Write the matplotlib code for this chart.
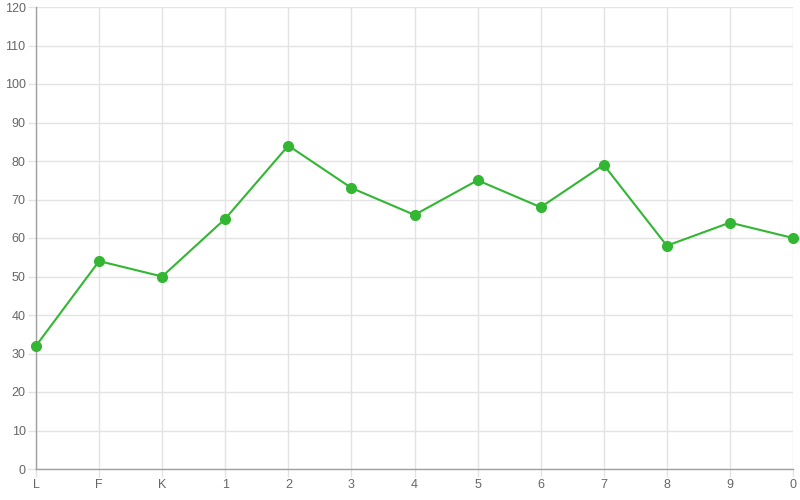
import matplotlib.pyplot as plt

plt.rcParams['font.family'] = ['Liberation Sans', 'DejaVu Sans']

labels = ['L', 'F', 'K', '1', '2', '3', '4', '5', '6', '7', '8', '9', '0']
values = [32, 54, 50, 65, 84, 73, 66, 75, 68, 79, 58, 64, 60]
y_ticks = list(range(0, 121, 10))

fig = plt.figure(figsize=(8, 5), dpi=100)
ax = fig.add_axes([36 / 800, 31 / 500, 757 / 800, 462 / 500])

x = list(range(len(labels)))
ax.plot(x, values, color='#33b633', linewidth=1.5, marker='o', markersize=7,
        markerfacecolor='#33b633', markeredgecolor='#33b633', zorder=3, clip_on=False)

ax.set_xlim(0, len(labels) - 1)
ax.set_ylim(0, 120)
ax.set_xticks(x)
ax.set_xticklabels(labels)
ax.set_yticks(y_ticks)

ax.grid(True, color='#e3e3e3', linewidth=1)
ax.set_axisbelow(True)
for side in ['top', 'right']:
    ax.spines[side].set_visible(False)
for side in ['left', 'bottom']:
    ax.spines[side].set_color('#a0a0a0')
    ax.spines[side].set_linewidth(1)

ax.tick_params(axis='both', colors='#e3e3e3', labelcolor='#666666', labelsize=9, length=6, width=1, pad=1.5)

fig.savefig('out.png', dpi=100)
